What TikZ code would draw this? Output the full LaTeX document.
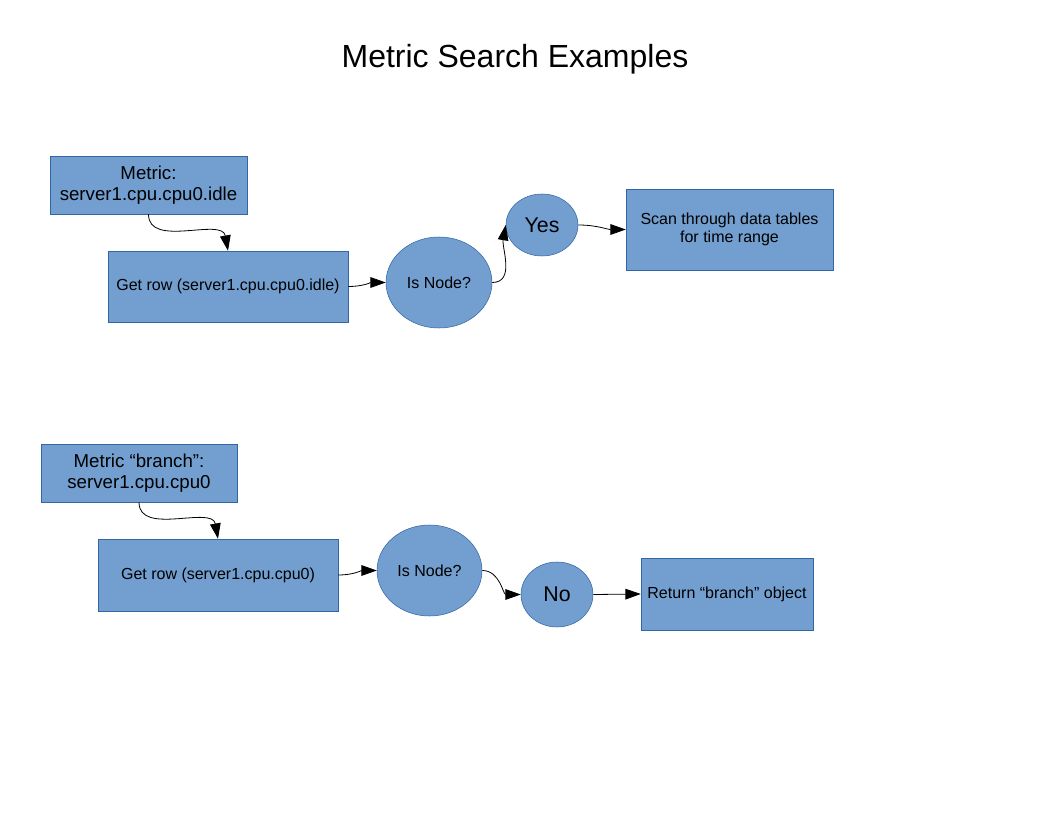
\documentclass[tikz,border=0pt]{standalone}
\usepackage{fontspec}
\setmainfont{Liberation Sans}
\usetikzlibrary{arrows.meta,shapes.geometric}
\definecolor{boxfill}{HTML}{729FCF}
\definecolor{boxline}{HTML}{3465A4}

\begin{document}
\begin{tikzpicture}[x=0.75pt,y=-0.75pt,
        box/.style={draw=boxline,fill=boxfill,inner sep=0pt,align=center,
            font=\fontsize{12}{13.8}\selectfont},
        bigbox/.style={box,font=\fontsize{14}{15.5}\selectfont},
        oval/.style={ellipse,draw=boxline,fill=boxfill,inner sep=0pt,
            font=\fontsize{12}{14}\selectfont},
        bigoval/.style={oval,font=\fontsize{16}{18}\selectfont},
        flow/.style={-{Triangle[length=11.5pt,width=8pt]},line width=0.6pt}]
        \useasboundingbox (0,0) rectangle (1056,816);

        % Title
        \node[font=\fontsize{24}{28}\selectfont] (title) at (515,59) {Metric Search Examples};

        % First example: a node
        \node[bigbox,minimum width=147.75pt,minimum height=43.5pt] (metric1) at (148.5,185) {Metric:\\server1.cpu.cpu0.idle};
        \node[box,minimum width=180pt,minimum height=53.25pt] (row1) at (228,286.5) {Get row (server1.cpu.cpu0.idle)};
        \node[oval,minimum width=79.5pt,minimum height=68.25pt] (test1) at (439,282.5) {Is Node?};
        \node[bigoval,minimum width=54pt,minimum height=46.5pt] (yes) at (542,225) {Yes};
        \node[box,minimum width=155.25pt,minimum height=60.75pt] (scan) at (729.5,229.5) {Scan through data tables\\for time range};

        \draw[flow] (metric1.south) to[out=-90,in=100] (row1.north);
        \draw[flow] (row1.east) to[out=0,in=180] (test1.west);
        \draw[flow] (test1.east) to[out=0,in=-100] (yes.west);
        \draw[flow] (yes.east) to[out=0,in=180] (scan.west);

        % Second example: a branch
        \node[bigbox,minimum width=147pt,minimum height=43.5pt] (metric2) at (139,473) {Metric “branch”:\\server1.cpu.cpu0};
        \node[box,minimum width=180pt,minimum height=54pt] (row2) at (218,575) {Get row (server1.cpu.cpu0)};
        \node[oval,minimum width=78.75pt,minimum height=68.25pt] (test2) at (429.5,570.5) {Is Node?};
        \node[bigoval,minimum width=54pt,minimum height=48.75pt] (no) at (557,594.5) {No};
        \node[box,minimum width=129pt,minimum height=54pt] (ret) at (727,594) {Return “branch” object};

        \draw[flow] (metric2.south) to[out=-90,in=100] (row2.north);
        \draw[flow] (row2.east) to[out=0,in=180] (test2.west);
        \draw[flow] (test2.east) to[out=0,in=180] (no.west);
        \draw[flow] (no.east) -- (ret.west);

\end{tikzpicture}
\end{document}
